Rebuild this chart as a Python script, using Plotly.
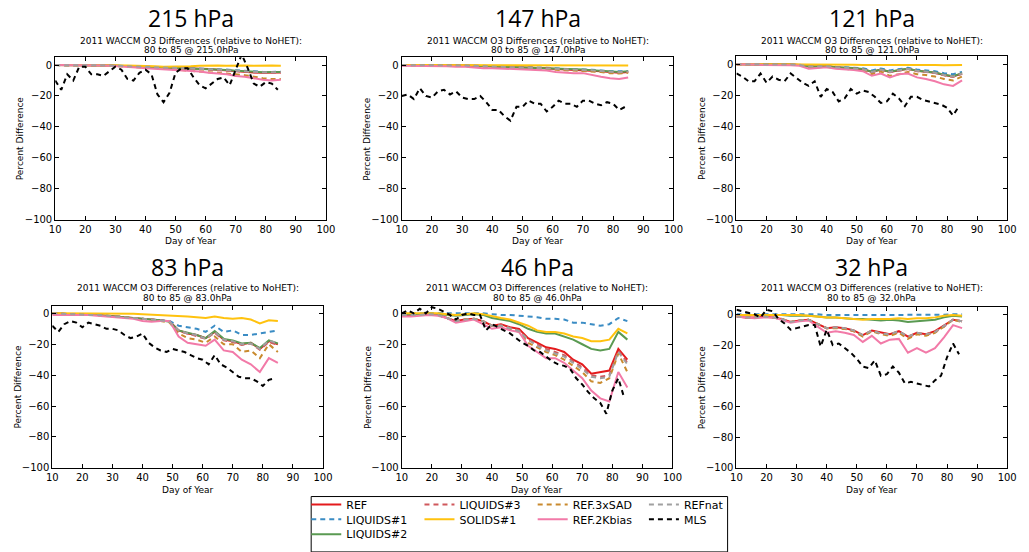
import plotly.graph_objects as go

W, H = 1029, 552

# ---------------- data ----------------
DAYS = [10, 13, 16, 19, 22, 25, 28, 31, 34, 37, 40, 43, 46, 49, 52, 55, 58, 61, 64, 67, 70, 73, 76, 79, 82, 85]
MLS_DAYS = list(range(10, 86, 2))  # 10 .. 84

SERIES = ["REF", "LIQUIDS#1", "LIQUIDS#2", "LIQUIDS#3", "SOLIDS#1", "REF.3xSAD", "REF.2Kbias", "REFnat", "MLS"]
LEVEL_LABELS = ["215 hPa", "147 hPa", "121 hPa", "83 hPa", "46 hPa", "32 hPa"]
LEVEL_VALUES = ["215.0", "147.0", "121.0", "83.0", "46.0", "32.0"]
X_TICKS = [10, 20, 30, 40, 50, 60, 70, 80, 90, 100]
Y_TICKS = [-100, -80, -60, -40, -20, 0]

# 215 hPa
REF_215 = [0, 0, 0, -0.3, -0.3, -0.3, -0.2, -0.5, -0.8, -1, -1, -1.2, -1.5, -1.8, -2, -2, -2.3, -2.5, -3, -3.3, -3.8, -4.2, -4.8, -5, -5, -4.8]
LIQ1_215 = [0, 0, 0, -0.2, -0.2, -0.2, -0.2, -0.4, -0.6, -0.8, -0.8, -1, -1.2, -1.4, -1.6, -1.7, -2, -2.2, -2.6, -2.9, -3.3, -3.7, -4.2, -4.4, -4.4, -4.3]
LIQ2_215 = [0, 0, 0, -0.2, -0.3, -0.2, -0.2, -0.5, -0.7, -1, -1, -1.2, -1.5, -1.7, -2, -2, -2.3, -2.5, -2.8, -3.2, -3.6, -4, -4.5, -4.6, -4.5, -4.4]
LIQ3_215 = [0, 0, 0, -0.3, -0.3, -0.3, -0.2, -0.5, -0.8, -1, -1, -1.2, -1.5, -1.8, -2, -2.1, -2.4, -2.6, -3, -3.4, -3.9, -4.3, -4.8, -5, -5, -4.8]
SOL_215 = [0, 0, 0, 0, 0, 0, 0, 0, -0.3, -0.5, -0.5, -0.7, -1, -1, -1, -0.8, -0.5, -0.3, -0.3, -0.5, -0.2, -0.3, -0.5, -0.3, -0.3, -0.5]
SAD_215 = [0, 0, 0, -0.2, -0.3, -0.3, -0.3, -0.8, -1, -1.2, -1.5, -1.8, -2.2, -2.8, -3.2, -3.5, -4, -4.5, -5, -5.5, -6, -6.5, -7.5, -8.5, -9, -9]
K2_215 = [0, 0, 0, -0.2, -0.3, -0.3, -0.5, -1, -1.3, -1.6, -2, -2.3, -2.6, -3, -3.3, -3.6, -4.2, -5, -5.5, -6, -7, -7.5, -8.5, -9.5, -10, -9.5]
NAT_215 = [0, 0, 0, -0.2, -0.3, -0.2, -0.2, -0.5, -0.7, -1, -1, -1.2, -1.5, -1.7, -2, -2, -2.3, -2.5, -2.9, -3.3, -3.7, -4.1, -4.6, -4.7, -4.6, -4.5]
MLS_215 = [-10, -16, -6, -10, -1, -1, -6, -6, -7, -4, -1, -3, -9, -10, -5, -3, -6, -19, -24, -18, -5, -2, -2, -8, -13, -15, -12, -9, -8, -13, -3, 7, -2, -12, -14, -11, -12, -16]

# 147 hPa
REF_147 = [0, 0, 0, 0, 0, 0, -0.3, -0.3, -0.5, -0.7, -0.8, -1, -1, -1.3, -1.5, -1.8, -2, -2.5, -2.8, -3, -3, -3.5, -4, -4.5, -5, -4.5]
LIQ1_147 = [0, 0, 0, 0, 0, 0, -0.2, -0.3, -0.4, -0.5, -0.6, -0.8, -0.8, -1, -1.2, -1.5, -1.7, -2.2, -2.5, -2.6, -2.7, -3, -3.5, -4, -4, -3.8]
LIQ2_147 = [0, 0, 0, 0, 0, 0, -0.3, -0.3, -0.5, -0.7, -0.8, -1, -1, -1.3, -1.5, -1.6, -1.8, -2.3, -2.5, -2.8, -2.8, -3.3, -3.8, -4.3, -4.5, -4]
LIQ3_147 = [0, 0, 0, 0, 0, 0, -0.3, -0.3, -0.5, -0.7, -0.8, -1, -1.1, -1.4, -1.6, -1.9, -2.1, -2.6, -2.9, -3.1, -3.1, -3.6, -4.1, -4.6, -5, -4.5]
SOL_147 = [0, 0, 0, 0, 0, 0, 0, 0, 0, 0, 0, 0, 0, -0.2, -0.2, -0.3, -0.3, -0.3, -0.3, -0.3, -0.3, -0.3, -0.3, -0.3, -0.3, -0.3]
SAD_147 = [0, 0, 0, 0, 0, 0, -0.3, -0.5, -0.7, -1, -1, -1.2, -1.3, -1.5, -2, -2.3, -2.5, -3, -3.3, -3.5, -3.5, -4, -4.5, -5.2, -5.5, -5]
K2_147 = [-0.5, -0.5, -0.5, -0.5, -0.5, -0.7, -1, -1, -1.5, -2, -2, -2.3, -2.5, -2.7, -3, -3.5, -3.5, -4.5, -5, -5.3, -5.2, -6.5, -7.5, -8.5, -9, -8]
NAT_147 = [0, 0, 0, 0, 0, 0, -0.3, -0.3, -0.5, -0.7, -0.8, -1, -1, -1.3, -1.5, -1.7, -1.9, -2.4, -2.7, -2.9, -2.9, -3.4, -3.9, -4.4, -4.7, -4.2]
MLS_147 = [-20, -19, -22, -15, -20, -21, -17, -16, -19, -17, -21, -22, -22, -20, -24, -29, -29, -33, -36, -27, -27, -23, -25, -25, -30, -27, -23, -25, -25, -27, -23, -23, -25, -26, -24, -25, -29, -27]

# 121 hPa
REF_121 = [0, 0, 0, -0.3, -0.3, -0.3, -0.3, -0.5, -1.5, -1.5, -1.3, -2, -2.3, -2.5, -3.2, -5, -3.5, -5, -3.8, -3, -4.3, -5, -5.5, -7, -8, -6]
LIQ1_121 = [0, 0, 0, -0.2, -0.2, -0.2, -0.2, -0.4, -1.2, -1.2, -1, -1.6, -1.8, -2, -2.6, -4, -2.8, -4, -3, -2.4, -3.5, -4, -4.5, -5.8, -6.5, -5]
LIQ2_121 = [0, 0, 0, -0.3, -0.3, -0.3, -0.3, -0.5, -1.5, -1.5, -1.3, -2, -2.2, -2.4, -3.1, -4.8, -3.4, -4.8, -3.7, -2.9, -4.2, -4.8, -5.4, -6.8, -7.8, -5.8]
LIQ3_121 = [0, 0, 0, -0.3, -0.3, -0.3, -0.3, -0.5, -1.5, -1.5, -1.3, -2, -2.3, -2.6, -3.3, -5.2, -3.6, -5.2, -4, -3.2, -4.5, -5.2, -5.7, -7.2, -8.3, -6.2]
SOL_121 = [0, 0, 0, 0, 0, 0, 0, 0, 0, -0.2, -0.3, -0.3, -0.4, -0.4, -0.5, -0.5, -0.5, -0.3, -0.2, -0.3, -0.3, -0.4, -0.5, -0.7, -0.5, -0.5]
SAD_121 = [0, 0, 0, -0.3, -0.3, -0.3, -0.4, -0.8, -2, -2, -1.8, -2.5, -3, -3.2, -4, -6.5, -4.8, -7.5, -6.5, -5, -6.5, -7, -8, -9.5, -10.5, -8]
K2_121 = [0, 0, -0.3, -0.5, -0.5, -0.5, -0.7, -1, -3, -2.5, -2, -3, -3.3, -3.8, -4.5, -7.5, -6, -8.5, -6.5, -6, -8.5, -9.5, -11, -13, -14, -10.5]
NAT_121 = [0, 0, 0, -0.3, -0.3, -0.3, -0.3, -0.5, -1.5, -1.5, -1.3, -2, -2.3, -2.5, -3.2, -5, -3.5, -5, -3.8, -3, -4.3, -5, -5.5, -7, -8, -6]
MLS_121 = [-6, -8, -11, -11, -6, -12, -8, -10, -11, -6, -9, -12, -14, -11, -21, -16, -18, -24, -22, -16, -19, -17, -18, -21, -25, -24, -19, -22, -27, -21, -21, -23, -24, -25, -26, -28, -33, -27]

# 83 hPa
REF_83 = [0, -0.3, -0.5, -0.8, -1, -1, -1.5, -2, -2.5, -3, -3.5, -4, -4.5, -5, -11, -13, -14, -16, -12, -17, -18, -20, -19, -23, -18, -20]
LIQ1_83 = [0, -0.3, -0.5, -0.8, -1, -1, -1.5, -2, -2.5, -3, -3.5, -4, -4.5, -5, -8, -9, -10, -12, -8, -12, -11, -14, -14, -13, -12, -11]
LIQ2_83 = [0, -0.3, -0.5, -0.8, -1, -1, -1.5, -2, -2.5, -3, -3.5, -4, -4.5, -5.5, -11, -12.5, -14, -16, -11.5, -16.5, -17.5, -19.5, -19, -22.5, -17.5, -19.5]
LIQ3_83 = [0, -0.3, -0.5, -0.8, -1, -1, -1.5, -2, -2.5, -3, -3.5, -4, -4.5, -5.5, -11.5, -13, -14.5, -16.5, -12.5, -17.5, -18.5, -20.5, -19.5, -23.5, -18.5, -20.5]
SOL_83 = [0, 0, 0, 0, 0, 0, 0, 0, 0, -0.3, -0.5, -0.8, -1, -1, -1.5, -2, -2.5, -3, -2, -3, -3.5, -3, -4, -6.5, -4.5, -5]
SAD_83 = [0, -0.3, -0.5, -0.8, -1, -1, -1.5, -2, -2.5, -3, -3.5, -4, -5, -6, -13, -16, -17, -19, -15, -20, -20, -25, -24, -29, -20, -25]
K2_83 = [-1, -1, -1, -1, -1, -1.5, -2, -2.5, -3, -3.5, -5, -5.5, -5, -5, -15, -19, -20, -21, -17, -24, -25, -30, -33, -38, -29, -32]
NAT_83 = [0, -0.3, -0.5, -0.8, -1, -1, -1.5, -2, -2.5, -3, -3.5, -4, -4.5, -5.5, -11, -13, -14, -16.5, -12, -17, -18, -20, -19.5, -23, -17.5, -19.5]
MLS_83 = [-8, -12, -7, -5, -6, -9, -6, -7, -8, -10, -10, -11, -14, -16, -15, -13, -19, -22, -24, -25, -23, -24, -25, -27, -29, -30, -33, -27, -33, -35, -38, -41, -42, -42, -44, -47, -43, -42]

# 46 hPa
REF_46 = [-1, -1, -1, -0.5, -1, -3, -5, -4, -3.5, -5, -8, -7, -9, -10, -16, -19, -22, -23, -25, -30, -33, -39, -38, -37, -23, -30]
LIQ1_46 = [0, 0, 0, 0, 0, 0, 0, 0, 0, 0, -0.5, -1, -1, -1.5, -2, -2.5, -3.5, -3.5, -4, -6, -6, -7, -8, -7, -3, -5]
LIQ2_46 = [-0.5, -0.5, -0.5, 0, -0.5, -1, -1.5, -1, -0.5, -1, -3, -4, -5, -7, -10, -12, -13, -13, -15, -17, -20, -23, -24, -23, -12, -17]
LIQ3_46 = [-1, -1, -1, -0.5, -1, -3, -5, -4, -3.5, -5, -8, -7.5, -9.5, -11, -17, -20, -23, -25, -27, -31, -35, -40, -41, -40, -24, -32]
SOL_46 = [0, 0, 0, 0, 0, -0.5, -1, -0.5, 0, -0.5, -2, -3, -4, -6, -8, -11, -12, -12, -13, -15, -16, -18, -18, -17, -10, -13]
SAD_46 = [-1, -1, -1, -0.5, -1, -3, -5, -4, -3.5, -5, -8, -8.5, -10.5, -12, -19, -22, -25, -27, -30, -34, -38, -44, -45, -42, -26, -38]
K2_46 = [-2, -2, -1.5, -1, -1.5, -3, -6, -5, -4, -7, -10, -9, -11, -12, -21, -25, -29, -29, -32, -37, -42, -50, -55, -57, -38, -48]
NAT_46 = [-1, -1, -1, -0.5, -1, -3, -5, -4, -3.5, -5, -8, -8, -10, -11.5, -17, -21, -24, -26, -28, -32, -36, -41, -42, -41, -25, -33]
MLS_46 = [0, 2, 0, 3, 0, 4, 3, 1, -1, -4, -1, 0, -1, -1, -11, -7, -9, -11, -13, -16, -19, -21, -24, -25, -28, -31, -33, -34, -36, -42, -46, -51, -55, -58, -65, -50, -42, -55]

# 32 hPa
REF_32 = [-1.5, -2, -2, -1.5, -2, -3, -5, -4, -3.5, -6, -9, -8.5, -9, -10.5, -13.5, -10.5, -12, -13, -11, -14.5, -12, -13, -11, -7.5, -3.5, -4.5]
LIQ1_32 = [0, 0, 0, 0, 0, 0, 0, 0, 0, 0, -0.5, -0.5, -0.5, -0.5, -0.5, -0.5, -0.5, -0.5, -0.5, -0.5, -0.5, -0.5, -0.3, -0.3, 0, 0]
LIQ2_32 = [-0.5, -0.5, -0.5, -0.5, -0.5, -0.5, -1, -1, -1, -1.5, -2, -2, -2.5, -3, -3, -3.5, -4, -3.5, -4, -5, -4.5, -4, -3.5, -2, -1, -1.5]
LIQ3_32 = [-1.5, -2, -2, -1.5, -2, -3, -5, -4, -3.5, -6, -9, -8.5, -9.5, -11, -14, -11, -12.5, -13.5, -11.5, -15, -12.5, -13.5, -11.5, -8, -3.5, -4.5]
SOL_32 = [-0.5, -0.5, -0.5, -0.5, -0.5, -0.5, -0.5, -0.5, -1, -1.5, -2, -2, -2.5, -3, -3.5, -3, -3, -3, -2.5, -3, -2.5, -2.5, -2, -1, -0.5, -1]
SAD_32 = [-1.5, -2, -2, -1.5, -2, -3, -5, -4, -3.5, -6, -9, -9, -9.5, -11, -14.5, -11, -13, -14, -12, -16, -13, -14, -12, -8, -3.5, -5]
K2_32 = [-1.5, -2, -2.5, -2, -2, -3.5, -5.5, -4.5, -4, -8, -12, -11, -12, -13.5, -18, -14, -19, -16.5, -16, -25, -22, -25, -22, -15, -7, -9]
NAT_32 = [-1.5, -2, -2, -1.5, -2, -3, -5, -4, -3.5, -6, -9, -8.5, -9, -10.5, -13.5, -10.5, -12.5, -13, -11, -14.5, -12, -13, -11.5, -7.5, -3.5, -4.5]
MLS_32 = [3, 2, 1, 0, -2, 3, 2, -3, -6, -10, -9, -8, -7, -7, -21, -10, -20, -19, -22, -25, -29, -34, -35, -30, -40, -39, -34, -38, -45, -44, -45, -46, -47, -43, -40, -28, -19, -26]

PANEL_DATA = [
    [REF_215, LIQ1_215, LIQ2_215, LIQ3_215, SOL_215, SAD_215, K2_215, NAT_215, MLS_215],
    [REF_147, LIQ1_147, LIQ2_147, LIQ3_147, SOL_147, SAD_147, K2_147, NAT_147, MLS_147],
    [REF_121, LIQ1_121, LIQ2_121, LIQ3_121, SOL_121, SAD_121, K2_121, NAT_121, MLS_121],
    [REF_83, LIQ1_83, LIQ2_83, LIQ3_83, SOL_83, SAD_83, K2_83, NAT_83, MLS_83],
    [REF_46, LIQ1_46, LIQ2_46, LIQ3_46, SOL_46, SAD_46, K2_46, NAT_46, MLS_46],
    [REF_32, LIQ1_32, LIQ2_32, LIQ3_32, SOL_32, SAD_32, K2_32, NAT_32, MLS_32],
]

# ---------------- styles ----------------
COLORS = ["#e41a1c", "#3a8cc4", "#5a9a52", "#d0585c", "#ffc20e", "#c98a2e", "#f27aa8", "#a0a0a0", "#000000"]
DASHES = ["solid", "5px,4px", "solid", "5px,4px", "solid", "5px,4px", "solid", "5px,4px", "5px,4px"]

# panel boxes in pixels: (left, right, top, bottom)
BOXES = [(50, 325, 58, 222), (402, 678, 58, 222), (742, 1017, 57, 222),
         (47, 322, 309, 473), (402, 677, 309, 473), (742, 1017, 310, 473)]

def px(x):
    return x / W

def py(y):
    return 1 - y / H

FONT = "DejaVu Sans"
fig = go.Figure()

# legend positions (pixel): column start x, row center y
LEG_POS = [(305, 510), (305, 525), (305, 540), (420, 510), (420, 525), (535, 510), (535, 525), (648, 510), (648, 525)]

for p, series_list in enumerate(PANEL_DATA):
    ax = "" if p == 0 else str(p + 1)
    for s, vals in enumerate(series_list):
        xs = MLS_DAYS if SERIES[s] == "MLS" else DAYS
        leg = "legend" if s == 0 else "legend%d" % (s + 1)
        fig.add_trace(go.Scatter(
            x=xs, y=vals, mode="lines", name=SERIES[s],
            line=dict(color=COLORS[s], width=2, dash=DASHES[s]),
            xaxis="x" + ax, yaxis="y" + ax,
            showlegend=(p == 0), legend=leg, hoverinfo="skip"))

layout = dict(width=W, height=H, margin=dict(l=0, r=0, t=0, b=0),
              paper_bgcolor="white", plot_bgcolor="white",
              font=dict(family=FONT, size=10, color="black"))

annotations = []
for p, (l, r, t, b) in enumerate(BOXES):
    ax = "" if p == 0 else str(p + 1)
    common = dict(showline=True, linecolor="black", linewidth=1, mirror="allticks",
                  ticks="inside", ticklen=4, tickcolor="black", showgrid=False, zeroline=False,
                  tickfont=dict(family=FONT, size=10, color="black"))
    layout["xaxis" + ax] = dict(domain=[px(l), px(r)], anchor="y" + ax, range=[10, 100],
                                tickvals=X_TICKS, **common)
    layout["yaxis" + ax] = dict(domain=[py(b), py(t)], anchor="x" + ax, range=[-100, 5],
                                tickvals=Y_TICKS, **common)
    cx = (l + r) / 2
    top_row = p < 3
    ty = 18 if top_row else 270
    s1 = 41 if top_row else 291
    s2 = 51 if top_row else 301
    annotations.append(dict(text=LEVEL_LABELS[p], x=px(cx), y=py(ty), xref="paper", yref="paper",
                            showarrow=False, xanchor="center", yanchor="middle",
                            font=dict(family="Open Sans", size=23, color="black")))
    annotations.append(dict(text="2011 WACCM O3 Differences (relative to NoHET):", x=px(cx), y=py(s1),
                            xref="paper", yref="paper", showarrow=False, xanchor="center", yanchor="middle",
                            font=dict(family=FONT, size=9, color="black")))
    annotations.append(dict(text="80 to 85 @ %shPa" % LEVEL_VALUES[p], x=px(cx), y=py(s2),
                            xref="paper", yref="paper", showarrow=False, xanchor="center", yanchor="middle",
                            font=dict(family=FONT, size=9, color="black")))
    annotations.append(dict(text="Percent Difference", x=px(l - 35), y=py((t + b) / 2), textangle=-90,
                            xref="paper", yref="paper", showarrow=False, xanchor="center", yanchor="middle",
                            font=dict(family=FONT, size=9, color="black")))
    annotations.append(dict(text="Day of Year", x=px(cx), y=py(b + 22),
                            xref="paper", yref="paper", showarrow=False, xanchor="center", yanchor="middle",
                            font=dict(family=FONT, size=9, color="black")))

for s in range(len(SERIES)):
    key = "legend" if s == 0 else "legend%d" % (s + 1)
    lx, ly = LEG_POS[s]
    layout[key] = dict(x=px(lx), y=py(ly), xanchor="left", yanchor="middle",
                       bgcolor="rgba(0,0,0,0)", borderwidth=0,
                       font=dict(family=FONT, size=11, color="black"))

layout["annotations"] = annotations
layout["shapes"] = [dict(type="rect", xref="paper", yref="paper",
                         x0=px(310), x1=px(733), y0=py(558), y1=py(502),
                         line=dict(color="black", width=1), fillcolor="rgba(0,0,0,0)")]
fig.update_layout(**layout)
fig.write_html("out.html")
